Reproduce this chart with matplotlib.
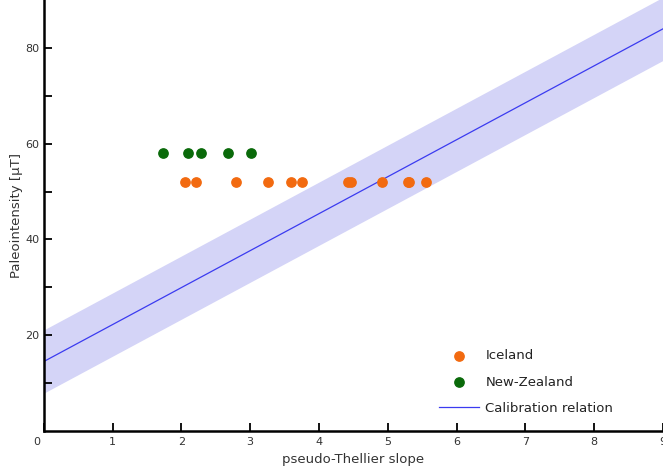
import matplotlib
matplotlib.use('Agg')
import matplotlib.pyplot as plt
import matplotlib.transforms as mtransforms
import numpy as np

# pseudo-Thellier slopes and paleointensities
iceland_slope = [2.06, 2.21, 2.79, 3.26, 3.60, 3.76, 4.42, 4.47, 4.92, 5.29, 5.31, 5.56]
iceland_pint = [52, 52, 52, 52, 52, 52, 52, 52, 52, 52, 52, 52]
nz_slope = [1.74, 2.09, 2.28, 2.68, 3.01]
nz_pint = [58, 58, 58, 58, 58]

# calibration relation: B = a * slope + b, with +/- band
calib_a = 7.72
calib_b = 14.5
calib_err = 6.6

plt.rcParams['font.family'] = ['DejaVu Sans']

fig = plt.figure(figsize=(6.63, 4.7), dpi=100)
ax = fig.add_axes([0.066, 0.083, 0.934, 0.917])

xs = np.array([0, 9])
ax.fill_between(xs, calib_a * xs + calib_b - calib_err, calib_a * xs + calib_b + calib_err,
                color='#d4d4f7', lw=0, zorder=1)
ax.plot(xs, calib_a * xs + calib_b, color='#3b3bf0', lw=0.9, zorder=2,
        label='Calibration relation')

ax.scatter(iceland_slope, iceland_pint, s=45, color='#f26a10', zorder=3, label='Iceland')
ax.scatter(nz_slope, nz_pint, s=45, color='#0a6a0a', zorder=3, label='New-Zealand')

ax.set_xlim(0, 9)
ax.set_ylim(0, 90)
ax.set_xticks(np.arange(0, 10))
ax.set_yticks([20, 40, 60, 80])
ax.set_yticks([10, 30, 50, 70], minor=True)

for s in ['top', 'right']:
    ax.spines[s].set_visible(False)
for s in ['left', 'bottom']:
    ax.spines[s].set_linewidth(1.8)

ax.tick_params(which='both', direction='in', width=1.3, length=6, labelsize=8,
               labelcolor='#333333')
ax.tick_params(axis='x', pad=4)
ax.tick_params(axis='y', pad=3)

# the corner "0" sits a little left of the spine
zero_lbl = ax.get_xticklabels()[0]
zero_lbl.set_transform(zero_lbl.get_transform() +
                       mtransforms.ScaledTranslation(-7 / 100, 0, fig.dpi_scale_trans))

ax.set_xlabel('pseudo-Thellier slope', fontsize=9.5, color='#333333', labelpad=5)
ax.set_ylabel('Paleointensity [µT]', fontsize=9.5, color='#333333', labelpad=1.5)

h, l = ax.get_legend_handles_labels()
order = [1, 2, 0]
ax.legend([h[i] for i in order], [l[i] for i in order], loc='lower right',
          bbox_to_anchor=(0.939, 0.01), frameon=False, fontsize=9.5,
          labelspacing=1.0, handlelength=3.0, handletextpad=0.5,
          labelcolor='#222222')

fig.savefig('out.png', dpi=100)
